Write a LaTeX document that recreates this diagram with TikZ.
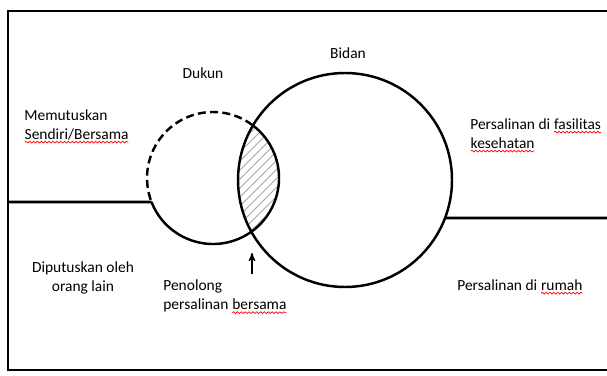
\documentclass[tikz,border=0pt]{standalone}
\usepackage{fontspec}
\setmainfont{Carlito}
\usetikzlibrary{arrows,decorations.pathmorphing}

% red spell-check wave under a word
\newcommand{\squig}[1]{\tikz[baseline=(w.base)]{\node[inner sep=0pt,outer sep=0pt] (w) {#1};
  \draw[red,line width=0.4pt,decorate,decoration={snake,amplitude=0.5pt,segment length=2.2pt}]
    ([yshift=-1.6pt]w.base west) -- ([yshift=-1.6pt]w.base east);}}

\begin{document}
\begin{tikzpicture}[x=0.02cm,y=0.02cm,line width=1.4pt,>=stealth',
  every node/.style={font=\fontsize{8.8}{10.8}\selectfont,text=black},
  lbl/.style={inner sep=0pt,align=left,anchor=west}]
  \tikzstyle{hatch}=[draw=gray!70,line width=0.5pt]
\useasboundingbox (0,0) rectangle (607,375);
\coordinate (dukun) at (213,197);
\coordinate (bidan) at (345,195);
\coordinate (jl) at ([shift={(201.3:66)}]dukun);
\coordinate (jr) at ([shift={(-20.8:107)}]bidan);
\coordinate (kiri) at (8,173);
\coordinate (kanan) at (607,157);
\coordinate (panah) at (252,101);
\coordinate (irisan) at (252,122);

% frame, open on the right
\draw[line width=1.7pt] (607,364) -- (8,364) -- (8,5) -- (607,5);

% shared area
\begin{scope}
  \clip (dukun) circle[radius=66];
  \clip (bidan) circle[radius=107];
  \foreach \k in {120,129,...,300}
    \draw[hatch] (\k,130) -- ++(130,130);
\end{scope}

\draw (bidan) circle[radius=107];
\draw ([shift={(201.3:66)}]dukun) arc[start angle=201.3,end angle=413.6,radius=66];
\draw[dash pattern=on 4.5pt off 2.5pt] ([shift={(53.6:66)}]dukun) arc[start angle=53.6,end angle=201.3,radius=66];

\draw[line width=1.6pt] (kiri) -- (jl);
\draw[line width=1.6pt] (jr) -- (kanan);
\draw[->,line width=0.7pt] (panah) -- (irisan);

\node[lbl] (memutuskan) at (24,248.5) {Memutuskan\\\squig{Sendiri/Bersama}};
\node (dukunlbl) at (203,302) {Dukun};
\node (bidanlbl) at (348,322) {Bidan};
\node[lbl] (fasilitas) at (470,239.5) {Persalinan di \squig{fasilitas}\\\squig{kesehatan}};
\node[inner sep=0pt,align=center] (diputuskan) at (83,97.5) {Diputuskan oleh\\orang lain};
\node[lbl] (penolong) at (163,78) {Penolong\\persalinan \squig{bersama}};
\node[lbl] (rumah) at (457,88) {Persalinan di \squig{rumah}};
\end{tikzpicture}
\end{document}
